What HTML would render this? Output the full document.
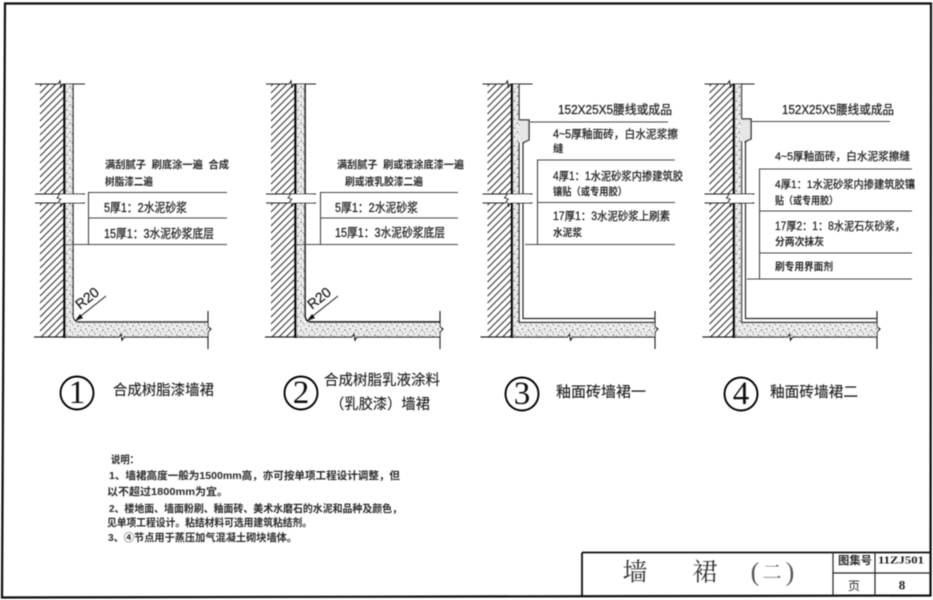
<!DOCTYPE html>
<html><head><meta charset="utf-8"><style>
html,body{margin:0;padding:0;background:#fff}
svg{display:block}
text{font-family:"Liberation Sans","Noto Sans CJK SC",sans-serif;fill:#222;dominant-baseline:central}
.s{font-size:10.5px;font-weight:700;fill:#2a2a2a}
.m{font-size:12.5px;fill:#222;stroke:#222;stroke-width:.25px}
.b{font-size:14.5px;fill:#222;stroke:#222;stroke-width:.15px}
.n{font-family:"Liberation Serif",serif;font-size:33px;text-anchor:middle;fill:#111}
.t{font-family:"Liberation Serif","Noto Serif CJK SC",serif;font-size:25px;text-anchor:middle;fill:#333}
</style></head><body>
<svg width="933" height="600" viewBox="0 0 933 600" xmlns="http://www.w3.org/2000/svg">
<defs>
<filter id="bl" x="-2%" y="-2%" width="104%" height="104%"><feGaussianBlur stdDeviation="0.5"/></filter>
<pattern id="hatch" width="7" height="7" patternUnits="userSpaceOnUse"><path d="M-1 8L8 -1M-1 1L1 -1M6 8L8 6" stroke="#333" stroke-width="1.100"/></pattern>
<pattern id="sp" width="11" height="9" patternUnits="userSpaceOnUse"><rect width="11" height="9" fill="#eee"/><g fill="#444"><circle cx="1" cy="2" r=".7"/><circle cx="4" cy="6" r=".8"/><circle cx="7" cy="1" r=".6"/><circle cx="9" cy="5" r=".8"/><circle cx="6" cy="8" r=".6"/><circle cx="2" cy="8" r=".5"/><circle cx="10" cy="8" r=".5"/><circle cx="4" cy="3" r=".5"/></g></pattern>
<g id="wall">
<rect x="40" y="84" width="24" height="110" fill="url(#hatch)"/>
<rect x="40" y="203" width="24" height="134" fill="url(#hatch)"/>
<path d="M35 84H58L60 81L61 87L63 84H85M35 194H85M35 203H58L60 200L61 206L63 203H85" stroke="#222" stroke-width="1.100" fill="none"/>
<path d="M64.500 84V194M64.500 203V338" stroke="#000" stroke-width="2.400" fill="none"/>
<rect x="60" y="194.700" width="22" height="7.600" fill="#fff"/>
<path d="M60 194L57 198L61 199L58 203" stroke="#333" stroke-width="1" fill="none"/>
</g>
</defs>
<rect width="933" height="600" fill="#fff"/>
<g filter="url(#bl)">
<!-- frame -->
<path d="M5 3.500H931L930.500 595.500L2 597.500Z" fill="none" stroke="#111" stroke-width="2.200"/>
<!-- title block -->
<path d="M582 552.500H930M582 552.500V596" stroke="#111" stroke-width="1.800" fill="none"/>
<path d="M833 552V596M875 552V596M833 573H930" stroke="#222" stroke-width="1.200" fill="none"/>

<!-- detail 1 -->
<rect x="65" y="84" width="8" height="110" fill="url(#sp)"/><rect x="65" y="203" width="8" height="120" fill="url(#sp)"/>
<path d="M65 322H208V337H65Z" fill="url(#sp)"/>
<use href="#wall"/>
<path d="M73 84V194M73 203V315Q73 322 80 322H208" stroke="#333" stroke-width="1.400" fill="none"/>
<path d="M34 337H119L121 334L122 340L124 337H208" stroke="#222" stroke-width="1.300" fill="none"/>
<path d="M208 311V327L211 329L208 332V349" stroke="#222" stroke-width="1.100" fill="none"/>
<path d="M106 296L77 319" stroke="#222" stroke-width="1.100" fill="none"/><path d="M75 321L80 314L83 318Z" fill="#111"/>
<text class="m" transform="translate(87 298) rotate(-38)" text-anchor="middle" style="font-size:14px">R20</text>
<path d="M88 192.500H227M88.500 192V244.500M88 218H227M66 244.500H227" stroke="#444" stroke-width="1.100" fill="none"/>
<text class="s" x="105" y="165" textLength="124" lengthAdjust="spacingAndGlyphs" xml:space="preserve">满刮腻子  刷底涂一遍  合成</text>
<text class="s" x="105" y="182" textLength="48" lengthAdjust="spacingAndGlyphs">树脂漆二遍</text>
<text class="m" x="104" y="208" textLength="83" lengthAdjust="spacingAndGlyphs">5厚1：2水泥砂浆</text>
<text class="m" x="104" y="234" textLength="110" lengthAdjust="spacingAndGlyphs">15厚1：3水泥砂浆底层</text>

<!-- detail 2 -->
<g transform="translate(231 0)">
<rect x="65" y="84" width="9" height="110" fill="url(#sp)"/><rect x="65" y="203" width="9" height="120" fill="url(#sp)"/>
<path d="M65 322H209V337H65Z" fill="url(#sp)"/>
<use href="#wall"/>
<path d="M74 84V194M74 203V315Q74 322 81 322H209" stroke="#222" stroke-width="1.700" fill="none"/>
<path d="M34 337H121L123 334L124 340L126 337H209" stroke="#222" stroke-width="1.300" fill="none"/>
<path d="M209 311V327L212 329L209 332V349" stroke="#222" stroke-width="1.100" fill="none"/>
<path d="M107 296L78 319" stroke="#222" stroke-width="1.100" fill="none"/><path d="M76 321L81 314L84 318Z" fill="#111"/>
<text class="m" transform="translate(88 298) rotate(-38)" text-anchor="middle" style="font-size:14px">R20</text>
<path d="M89 192.500H227M89.500 192V244.500M89 218H227M66 244.500H227" stroke="#444" stroke-width="1.100" fill="none"/>
</g>
<text class="s" x="337" y="165" textLength="127" lengthAdjust="spacingAndGlyphs" xml:space="preserve">满刮腻子  刷或液涂底漆一遍</text>
<text class="s" x="345" y="182" textLength="78" lengthAdjust="spacingAndGlyphs">刷或液乳胶漆二遍</text>
<text class="m" x="335" y="208" textLength="83" lengthAdjust="spacingAndGlyphs">5厚1：2水泥砂浆</text>
<text class="m" x="335" y="233" textLength="110" lengthAdjust="spacingAndGlyphs">15厚1：3水泥砂浆底层</text>

<!-- detail 3 -->
<g transform="translate(447.500 0)">
<rect x="65" y="84" width="7" height="110" fill="url(#sp)"/><rect x="65" y="203" width="7" height="120" fill="url(#sp)"/>
<path d="M65 323H207.500V337H65Z" fill="url(#sp)"/>
<use href="#wall"/>
<path d="M71.500 84V120M71.500 142V194M71.500 203V322.500H207.500" stroke="#111" stroke-width="1.200" fill="none"/>
<path d="M75.500 142V194M75.500 203V318.500H207.500" stroke="#222" stroke-width="1.200" fill="none"/>
<rect x="72" y="120" width="10" height="22" fill="#e6e6e6"/>
<path d="M71.500 120H81.500V140L75 143" stroke="#111" stroke-width="1.300" fill="none"/>
<path d="M33 337H120L122 334L123 340L125 337H207.500" stroke="#222" stroke-width="1.300" fill="none"/>
<path d="M207.500 311V327L210.500 329L207.500 332V349" stroke="#222" stroke-width="1.100" fill="none"/>
</g>
<path d="M530 122H668M537 160H675M537.500 160V244.500M537 202.500H675M525 244.500H675" stroke="#444" stroke-width="1.100" fill="none"/>
<text class="m" x="558" y="110" textLength="114" lengthAdjust="spacingAndGlyphs">152X25X5腰线或成品</text>
<text class="m" x="553" y="135" textLength="125" lengthAdjust="spacingAndGlyphs" style="font-size:11.500px">4~5厚釉面砖，白水泥浆擦</text>
<text class="s" x="553" y="149">缝</text>
<text class="m" x="553" y="177" textLength="130" lengthAdjust="spacingAndGlyphs" style="font-size:11.500px">4厚1：1水泥砂浆内掺建筑胶</text>
<text class="s" x="553" y="192" textLength="74" lengthAdjust="spacingAndGlyphs">镶贴（或专用胶）</text>
<text class="m" x="553" y="217" textLength="117" lengthAdjust="spacingAndGlyphs" style="font-size:11.500px">17厚1：3水泥砂浆上刷素</text>
<text class="s" x="553" y="233" textLength="29" lengthAdjust="spacingAndGlyphs">水泥浆</text>

<!-- detail 4 -->
<g transform="translate(669.500 0)">
<rect x="65" y="84" width="7" height="110" fill="url(#sp)"/><rect x="65" y="203" width="7" height="120" fill="url(#sp)"/>
<path d="M65 323H207.500V337H65Z" fill="url(#sp)"/>
<use href="#wall"/>
<path d="M72 84V119M72 141V194M72 203V322.500H207.500" stroke="#111" stroke-width="1.200" fill="none"/>
<path d="M76 141V194M76 203V318.500H207.500" stroke="#222" stroke-width="1.200" fill="none"/>
<rect x="72" y="119" width="9" height="22" fill="#e6e6e6"/>
<path d="M72 119H81.500V139L75 142" stroke="#111" stroke-width="1.300" fill="none"/>
<path d="M33 337H118L120 334L121 340L123 337H207.500" stroke="#222" stroke-width="1.300" fill="none"/>
<path d="M207.500 311V327L210.500 329L207.500 332V349" stroke="#222" stroke-width="1.100" fill="none"/>
</g>
<path d="M751 121.500H890M759 169H912M759.500 169V279M759 211H912M759 253H912M747 279H912" stroke="#444" stroke-width="1.100" fill="none"/>
<text class="m" x="782" y="110" textLength="112" lengthAdjust="spacingAndGlyphs">152X25X5腰线或成品</text>
<text class="m" x="775" y="157" textLength="135" lengthAdjust="spacingAndGlyphs" style="font-size:11px">4~5厚釉面砖，白水泥浆擦缝</text>
<text class="m" x="775" y="185" textLength="140" lengthAdjust="spacingAndGlyphs" style="font-size:11px">4厚1：1水泥砂浆内掺建筑胶镶</text>
<text class="s" x="775" y="201" textLength="63" lengthAdjust="spacingAndGlyphs">贴（或专用胶）</text>
<text class="m" x="775" y="227" textLength="130" lengthAdjust="spacingAndGlyphs" style="font-size:11.500px">17厚2：1：8水泥石灰砂浆，</text>
<text class="s" x="775" y="242" textLength="49" lengthAdjust="spacingAndGlyphs">分两次抹灰</text>
<text class="s" x="775" y="267" textLength="58" lengthAdjust="spacingAndGlyphs">刷专用界面剂</text>

<!-- captions -->
<g fill="none" stroke="#000" stroke-width="1.900">
<circle cx="77" cy="393" r="16.500"/><circle cx="301" cy="393" r="16.500"/><circle cx="522" cy="394" r="16.500"/><circle cx="741" cy="394" r="16.500"/>
</g>
<text class="n" x="77" y="393">1</text><text class="n" x="301" y="393">2</text><text class="n" x="522" y="394">3</text><text class="n" x="741" y="394">4</text>
<text class="b" x="113" y="391" textLength="101" lengthAdjust="spacingAndGlyphs">合成树脂漆墙裙</text>
<text class="b" x="324" y="381" textLength="116" lengthAdjust="spacingAndGlyphs">合成树脂乳液涂料</text>
<text class="b" x="330" y="405" textLength="100" lengthAdjust="spacingAndGlyphs">（乳胶漆）墙裙</text>
<text class="b" x="556" y="393" textLength="90" lengthAdjust="spacingAndGlyphs">釉面砖墙裙一</text>
<text class="b" x="770" y="393" textLength="88" lengthAdjust="spacingAndGlyphs">釉面砖墙裙二</text>

<!-- notes -->
<text class="s" x="111" y="460" textLength="28" lengthAdjust="spacingAndGlyphs">说明：</text>
<text class="s" x="109" y="476" textLength="291" lengthAdjust="spacingAndGlyphs">1、墙裙高度一般为1500mm高，亦可按单项工程设计调整，但</text>
<text class="s" x="107" y="492" textLength="121" lengthAdjust="spacingAndGlyphs">以不超过1800mm为宜。</text>
<text class="s" x="109" y="509" textLength="293" lengthAdjust="spacingAndGlyphs">2、楼地面、墙面粉刷、釉面砖、美术水磨石的水泥和品种及颜色，</text>
<text class="s" x="107" y="523" textLength="205" lengthAdjust="spacingAndGlyphs">见单项工程设计。粘结材料可选用建筑粘结剂。</text>
<text class="s" x="108" y="538" textLength="189" lengthAdjust="spacingAndGlyphs">3、④节点用于蒸压加气混凝土砌块墙体。</text>

<!-- title text -->
<text class="t" x="635" y="573">墙</text><text class="t" x="705" y="573">裙</text>
<text class="t" x="755" y="572" style="font-size:26px;fill:#555">(</text>
<text class="t" x="772" y="573" style="font-size:19px;fill:#555">二</text>
<text class="t" x="790" y="572" style="font-size:26px;fill:#555">)</text>
<text class="s" x="838" y="561" textLength="34" lengthAdjust="spacingAndGlyphs" style="font-size:11px">图集号</text>
<text x="878" y="561" textLength="46" lengthAdjust="spacingAndGlyphs" style="font-family:'Liberation Serif',serif;font-weight:700;font-size:10.500px">11ZJ501</text>
<text class="s" x="848" y="586" style="font-size:12px;font-weight:400">页</text>
<text x="902" y="585" text-anchor="middle" style="font-family:'Liberation Serif',serif;font-weight:700;font-size:13px">8</text>
</g>
</svg>
</body></html>
